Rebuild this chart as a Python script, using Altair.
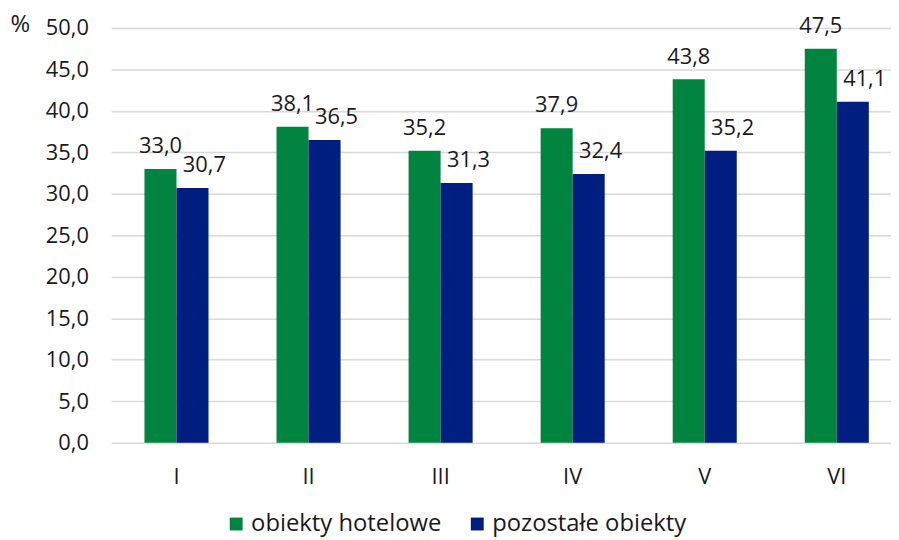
import altair as alt
import pandas as pd

months = ["I", "II", "III", "IV", "V", "VI"]
series_names = ["obiekty hotelowe", "pozostałe obiekty"]
hotel = [33.0, 38.1, 35.2, 37.9, 43.8, 47.5]
other = [30.7, 36.5, 31.3, 32.4, 35.2, 41.1]
colors = ["#00843f", "#001d80"]
y_ticks = [0, 5, 10, 15, 20, 25, 30, 35, 40, 45, 50]

rows = []
for m, h, o in zip(months, hotel, other):
    rows.append({"miesiac": m, "seria": series_names[0], "wartosc": h})
    rows.append({"miesiac": m, "seria": series_names[1], "wartosc": o})
df = pd.DataFrame(rows)

FONT = "Open Sans"
FS = 22
TXT = "#1a1a1a"

x_enc = alt.X("miesiac:N", sort=months, title=None,
              scale=alt.Scale(paddingInner=0.515, paddingOuter=0.21, align=0.6),
              axis=alt.Axis(labelAngle=0, ticks=False, domain=False, labelPadding=24,
                            labelFontSize=FS, labelFont=FONT, labelColor=TXT))
xoff = alt.XOffset("seria:N", sort=series_names,
                   scale=alt.Scale(paddingInner=0, paddingOuter=0))
y_enc = alt.Y("wartosc:Q",
              scale=alt.Scale(domain=[0, 50], nice=False),
              axis=alt.Axis(values=y_ticks, ticks=False, domain=False, labelPadding=23,
                            labelExpr="replace(format(datum.value, '.1f'), '.', ',')",
                            labelFontSize=FS, labelFont=FONT, labelColor=TXT,
                            gridColor="#d9d9d9", gridWidth=1.5,
                            title="%", titleAngle=0, titleAlign="left",
                            titleBaseline="alphabetic", titleX=-102, titleY=4,
                            titleFontSize=24, titleFont=FONT, titleFontWeight="normal",
                            titleColor=TXT))

base = alt.Chart(df).transform_calculate(
    lab="replace(format(datum.wartosc, '.1f'), '.', ',')"
)

bars = base.mark_bar().encode(
    x=x_enc,
    xOffset=xoff,
    y=y_enc,
    color=alt.Color("seria:N", sort=series_names,
                    scale=alt.Scale(domain=series_names, range=colors),
                    legend=alt.Legend(title=None, orient="none", direction="horizontal",
                                      legendX=114, legendY=488, padding=0,
                                      symbolType="square", symbolSize=169,
                                      symbolStrokeWidth=0, labelFontSize=24,
                                      labelFont=FONT, labelColor=TXT, labelOffset=3,
                                      labelLimit=500, columnPadding=24)),
)

lab_h = base.transform_filter(alt.datum.seria == series_names[0]).mark_text(
    baseline="alphabetic", dy=-16, fontSize=FS, font=FONT, color=TXT
).encode(x=x_enc, xOffset=xoff, y=y_enc, text="lab:N")

lab_o = base.transform_filter(alt.datum.seria == series_names[1]).mark_text(
    baseline="alphabetic", dy=-16, dx=12, fontSize=FS, font=FONT, color=TXT
).encode(x=x_enc, xOffset=xoff, y=y_enc, text="lab:N")

chart = alt.layer(bars, lab_h, lab_o).properties(
    width=786, height=418,
    autosize=alt.AutoSizeParams(type="none"),
    padding={"left": 104, "top": 18, "right": 0, "bottom": 96},
).configure_view(stroke=None)

chart.save("out.html", embed_options={"renderer": "svg", "actions": False})
